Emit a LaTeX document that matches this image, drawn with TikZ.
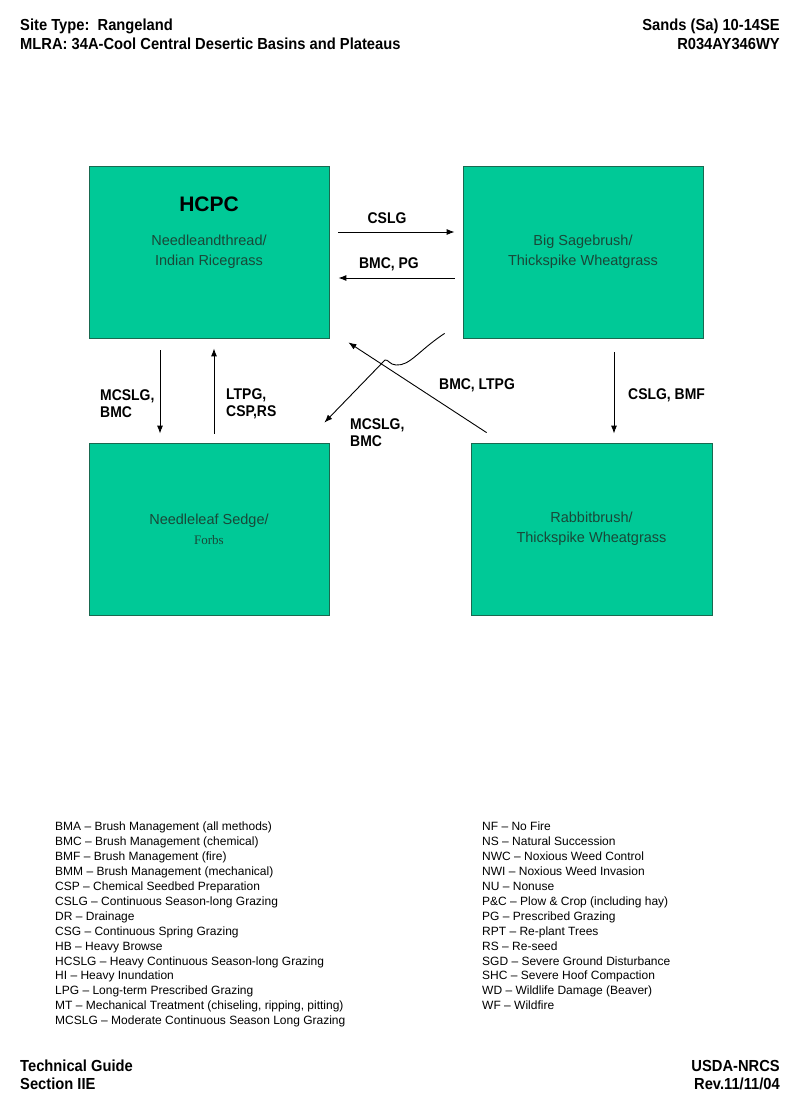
\documentclass[tikz,border=0pt]{standalone}
\usepackage{xcolor}
\usepackage{fontspec}
\usepackage{tikz}
\usetikzlibrary{arrows.meta,positioning}
\setmainfont{Liberation Sans}
\newfontfamily\headfont[FakeStretch=0.92]{Liberation Sans}
\newfontfamily\labfont[FakeStretch=0.9]{Liberation Sans}
\newfontfamily\forbsfont{Liberation Serif}
\definecolor{boxfill}{RGB}{0,201,151}
\definecolor{boxline}{RGB}{25,105,80}
\definecolor{boxtext}{RGB}{25,72,56}
\tikzset{
    state/.style={rectangle,draw=boxline,fill=boxfill,line width=0.8pt,minimum width=240pt,minimum height=172pt,inner sep=0pt,align=center,text=boxtext,font=\fontsize{14.5}{20}\selectfont},
    flow/.style={-{Latex[length=8pt,width=6pt]},line width=0.9pt},
    trans/.style={font=\labfont\bfseries\fontsize{15.5}{17}\selectfont,inner sep=0pt,align=left,anchor=west},
    head/.style={font=\headfont\bfseries\fontsize{16}{19}\selectfont,inner sep=0pt},
    legend/.style={font=\fontsize{12}{14.9}\selectfont,inner sep=0pt,align=left,anchor=north west}
}
\begin{document}
\begin{tikzpicture}[x=1pt,y=-1pt]
    \useasboundingbox[fill=white] (0,0) rectangle (800,1108);
    \node[head,anchor=base west] (site) at (20,31) {Site Type:\ \ Rangeland};
    \node[head,anchor=base west] (mlra) at (20,50) {MLRA: 34A-Cool Central Desertic Basins and Plateaus};
    \node[head,anchor=base east] (sands) at (780,31) {Sands (Sa) 10-14SE};
    \node[head,anchor=base east] (rcode) at (780,50) {R034AY346WY};

    \node[state] (hcpc) at (209,252) {Needleandthread/\\Indian Ricegrass};
    \node[font=\bfseries\fontsize{21}{24}\selectfont,inner sep=0pt,below=31pt of hcpc.north] (hcpctitle) {HCPC};
    \node[state] (sage) at (583,252) {Big Sagebrush/\\Thickspike Wheatgrass};
    \node[state] (sedge) at (209,529) {Needleleaf Sedge/\\{\forbsfont\fontsize{13}{20}\selectfont Forbs}};
    \node[state,minimum width=241pt] (rabbit) at (591.5,529) {Rabbitbrush/\\Thickspike Wheatgrass};

    \draw[flow] ([xshift=9pt,yshift=20pt]hcpc.east) -- ([xshift=-8pt,yshift=20pt]sage.west);
    \draw[flow] ([xshift=-8pt,yshift=-26pt]sage.west) -- ([xshift=9pt,yshift=-26pt]hcpc.east);
    \draw[flow] ([xshift=-49pt,yshift=-12pt]hcpc.south) -- ([xshift=-49pt,yshift=9pt]sedge.north);
    \draw[flow] ([xshift=5pt,yshift=9pt]sedge.north) -- ([xshift=5pt,yshift=-10pt]hcpc.south);
    \draw[flow] ([xshift=31pt,yshift=-14pt]sage.south) -- ([xshift=22.5pt,yshift=9pt]rabbit.north);
    \draw[flow] ([xshift=16pt,yshift=10pt]rabbit.north west) -- ([xshift=19pt,yshift=-4pt]hcpc.south east);
    \draw[flow] ([xshift=-18pt,yshift=5pt]sage.south west) .. controls (418,351) and (410,366) .. (396,365)
        .. controls (390,365) and (388,359) .. (385,360) -- ([xshift=-5pt,yshift=20pt]sedge.north east);

    \node[trans,anchor=center] (cslg) at (387,218) {CSLG};
    \node[trans,anchor=center] (bmcpg) at (389,264) {BMC, PG};
    \node[trans] (mcslgleft) at (100,404) {MCSLG,\\BMC};
    \node[trans] (ltpg) at (226,404) {LTPG,\\CSP,RS};
    \node[trans] (cslgbmf) at (628,395) {CSLG, BMF};
    \node[trans] (bmcltpg) at (439,385) {BMC, LTPG};
    \node[trans] (mcslgmid) at (350,433) {MCSLG,\\BMC};

    \node[legend] (legendleft) at (55,822) {BMA -- Brush Management (all methods)\\
        BMC -- Brush Management (chemical)\\
        BMF -- Brush Management (fire)\\
        BMM -- Brush Management (mechanical)\\
        CSP -- Chemical Seedbed Preparation\\
        CSLG -- Continuous Season-long Grazing\\
        DR -- Drainage\\
        CSG -- Continuous Spring Grazing\\
        HB -- Heavy Browse\\
        HCSLG -- Heavy Continuous Season-long Grazing\\
        HI -- Heavy Inundation\\
        LPG -- Long-term Prescribed Grazing\\
        MT -- Mechanical Treatment (chiseling, ripping, pitting)\\
        MCSLG -- Moderate Continuous Season Long Grazing};
    \node[legend] (legendright) at (482,822) {NF -- No Fire\\
        NS -- Natural Succession\\
        NWC -- Noxious Weed Control\\
        NWI -- Noxious Weed Invasion\\
        NU -- Nonuse\\
        P\&C -- Plow \& Crop (including hay)\\
        PG -- Prescribed Grazing\\
        RPT -- Re-plant Trees\\
        RS -- Re-seed\\
        SGD -- Severe Ground Disturbance\\
        SHC -- Severe Hoof Compaction\\
        WD -- Wildlife Damage (Beaver)\\
        WF -- Wildfire};

    \node[head,anchor=base west] (guide) at (20,1071) {Technical Guide};
    \node[head,anchor=base west] (section) at (20,1089) {Section IIE};
    \node[head,anchor=base east] (usda) at (780,1071) {USDA-NRCS};
    \node[head,anchor=base east] (rev) at (780,1089) {Rev.11/11/04};
\end{tikzpicture}
\end{document}
